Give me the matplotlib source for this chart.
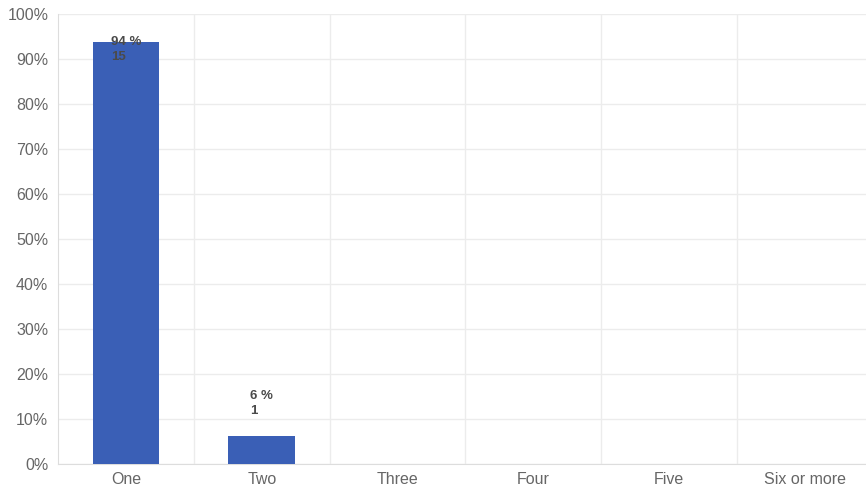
import matplotlib.pyplot as plt
from matplotlib.ticker import MultipleLocator, PercentFormatter

categories = ['One', 'Two', 'Three', 'Four', 'Five', 'Six or more']
counts = [15, 1, 0, 0, 0, 0]
percents = [93.75, 6.25, 0, 0, 0, 0]

BAR_COLOR = '#3a5fb6'
GRID_COLOR = '#ececec'
TICK_COLOR = '#666666'
LABEL_COLOR = '#4a4a4a'

plt.rcParams['font.family'] = ['Liberation Sans', 'DejaVu Sans']

fig = plt.figure(figsize=(8.66, 4.88), dpi=100)
ax = fig.add_axes([58 / 866, 24 / 488, 815 / 866, 450 / 488])

x = range(len(categories))
ax.bar(x, percents, width=0.49, color=BAR_COLOR, zorder=3)

ax.set_xlim(-0.5, len(categories) - 0.5)
ax.set_ylim(0, 100)
ax.yaxis.set_major_locator(MultipleLocator(10))
ax.yaxis.set_major_formatter(PercentFormatter(decimals=0))

# vertical separators between categories
for b in range(1, len(categories)):
    ax.axvline(b - 0.5, color=GRID_COLOR, lw=1, zorder=0)
ax.grid(axis='y', color=GRID_COLOR, lw=1, zorder=0)

for side in ['top', 'right']:
    ax.spines[side].set_visible(False)
ax.spines['left'].set_color('#dddddd')
ax.spines['bottom'].set_color('#dddddd')

ax.set_xticks(list(x))
ax.set_xticklabels(categories)
ax.tick_params(axis='both', length=0, colors=TICK_COLOR, labelsize=11.5)
ax.tick_params(axis='x', pad=6)
ax.tick_params(axis='y', pad=7)

for i, (p, c) in enumerate(zip(percents, counts)):
    if c == 0:
        continue
    y = min(p + 7.1, 92.2)
    ax.text(i, y, f'{round(p)} %\n{c}', ha='center', va='center',
            multialignment='left', fontsize=9.5, fontweight='bold',
            color=LABEL_COLOR, linespacing=1.35, zorder=4)

fig.savefig('out.png', dpi=100)
